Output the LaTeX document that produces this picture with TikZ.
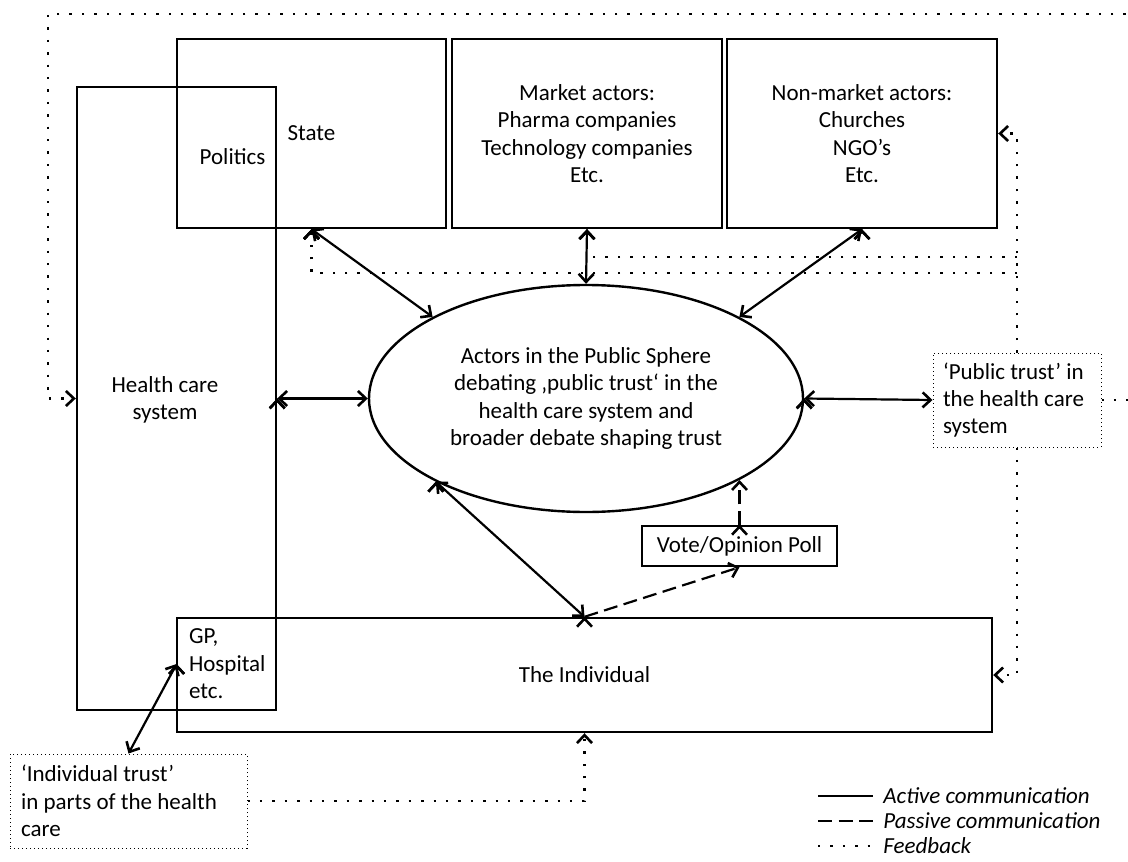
\documentclass[tikz,border=0pt]{standalone}
\usepackage{fontspec}
\setmainfont{Carlito}
\usetikzlibrary{shapes,arrows.meta}
\newcommand{\diafont}{\fontsize{11.5pt}{13.7pt}\selectfont}
\tikzset{
  >={Straight Barb[length=4pt,width=7.5pt,line width=1.3pt]},
  box/.style={draw=black,line width=1.2pt,inner sep=0pt,align=center},
  trust/.style={draw=black,line width=0.5pt,dash pattern=on 0.5pt off 1.5pt,inner xsep=5pt,inner ysep=0pt,align=flush left,minimum height=47pt},
  act/.style={<->,draw=black,line width=1.1pt},
  pas/.style={->,draw=black,line width=1.1pt,dash pattern=on 7pt off 3.25pt},
  fb/.style={->,draw=black,line width=1.2pt,dash pattern=on 1.2pt off 5pt},
  legend/.style={anchor=west,inner xsep=5pt,font=\diafont\itshape}
}
\begin{document}
\begin{tikzpicture}[x=0.5pt,y=-0.5pt,font=\diafont]
\useasboundingbox (0,0) rectangle (1128,861);
\clip (0,0) rectangle (1128,861);
\node[box,minimum width=134.5pt,minimum height=94.5pt] (state) at (311.5,133.5) {State};
\node[box,minimum width=135pt,minimum height=94.5pt] (market) at (587,133.5) {Market actors:\\Pharma companies\\Technology companies\\Etc.};
\node[box,minimum width=135pt,minimum height=94.5pt] (nonmarket) at (862,133.5) {Non-market actors:\\Churches\\NGO’s\\Etc.};
\node[box,minimum width=99.5pt,minimum height=311.5pt] (hcs) at (176.5,398.5) {};
\node[align=center] (hcstext) at (165,400) {Health care\\system};
\node (politics) at (232.5,157) {Politics};
\node[box,minimum width=407.5pt,minimum height=57pt] (indiv) at (584.5,675) {The Individual};
\node[align=flush left,inner xsep=6pt,inner ysep=0pt,text width=37.5pt,minimum height=46pt] (gp) at (226.5,664) {GP,\\Hospital\\etc.};
\node[box,ellipse,minimum width=217pt,minimum height=113.5pt] (ell) at (586,398.5) {Actors in the Public Sphere\\debating ‚public trust‘ in the\\health care system and\\broader debate shaping trust};
\node[trust,minimum width=84pt,text width=74pt] (ptrust) at (1017,400) {‘Public trust’ in\\the health care\\system};
\node[trust,minimum width=118.5pt,inner xsep=5.5pt,text width=107.5pt] (itrust) at (128.5,801) {‘Individual trust’\\in parts of the health\\care};
\node[box,minimum width=97.5pt,minimum height=20pt] (poll) at (739.5,546) {Vote/Opinion Poll};

\path [act] (state.south) edge (ell.152);
\path [act] (market.south) edge (ell.north);
\path [act] (nonmarket.south) edge (ell.28);
\path [act] (hcs.east) edge (ell.west);
\path [act] (ell.east) edge (ptrust.west);
\path [act] (ell.209) edge (indiv.north);
\path [act] (gp.west) edge (itrust.north);
\path [pas] (indiv.north) edge (poll.south);
\path [pas] (poll.north) edge (poll.north |- ell.332);

\coordinate (fbm) at (593,257);
\coordinate (fbs) at (1017,273);
\coordinate (fbr) at (1150,14);
\coordinate (fbl) at (48,14);
\draw [fb] (ptrust.north) |- (nonmarket.east);
\draw [fb] (ptrust.south) |- (indiv.east);
\draw [fb,-] (ptrust.north |- fbm) -- (fbm);
\draw [fb] (fbs) -| (state.south);
\draw [fb] (itrust.east) -| (indiv.south);
\draw [fb] (ptrust.east) -| (fbr) -- (fbl) |- (hcs.west);

\node[legend] (lgact) at (873,796) {Active communication};
\node[legend] (lgpas) at (873,821) {Passive communication};
\node[legend] (lgfb) at (873,846) {Feedback};
\draw [line width=1.1pt] ([xshift=-27.5pt]lgact.west) -- (lgact.west);
\draw [line width=1.1pt,dash pattern=on 7pt off 3.25pt] ([xshift=-27.5pt]lgpas.west) -- (lgpas.west);
\draw [line width=1.2pt,dash pattern=on 1.2pt off 5pt] ([xshift=-27.5pt]lgfb.west) -- (lgfb.west);
\end{tikzpicture}
\end{document}
